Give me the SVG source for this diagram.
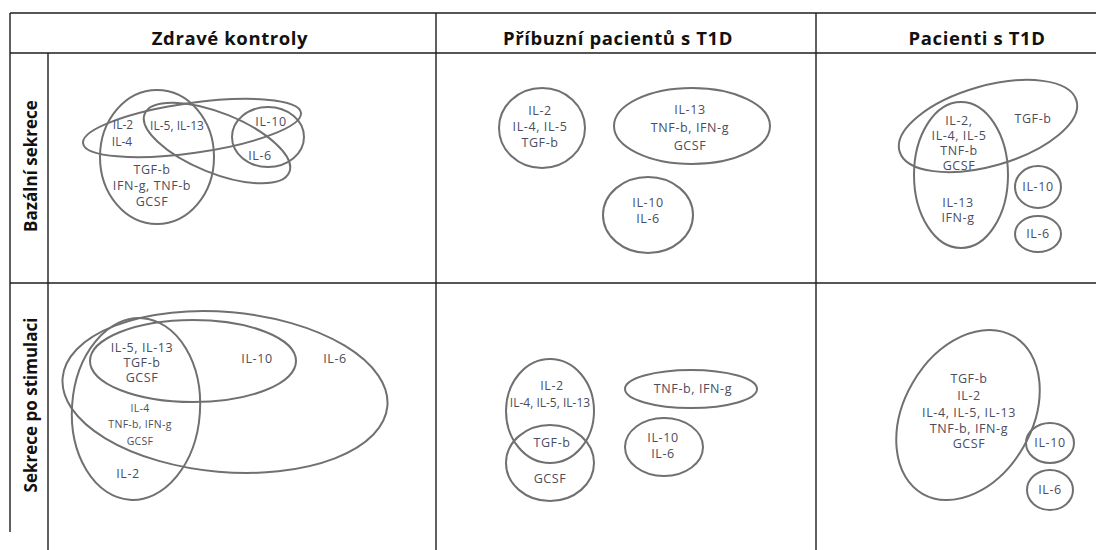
<svg xmlns="http://www.w3.org/2000/svg" width="1096" height="550" viewBox="0 0 1096 550">
<style>
.grid{stroke:#1e1e1e;stroke-width:1.4;fill:none}
.hd{font-family:"Open Sans","Liberation Sans",sans-serif;font-weight:700;font-size:18.5px;letter-spacing:0.6px;fill:#111;text-anchor:middle}
.rl{font-family:"Open Sans","Liberation Sans",sans-serif;font-weight:700;font-size:17px;fill:#111;text-anchor:middle}
.e{fill:none;stroke:#707070;stroke-width:2}
.t{font-family:"Open Sans","Liberation Sans",sans-serif;font-size:12.5px;letter-spacing:0.6px;fill:#4a4d5e;text-anchor:middle}
.n{font-family:"Open Sans","Liberation Sans",sans-serif;font-size:12px;fill:#4a4d5e;text-anchor:middle}
.s{font-family:"Open Sans","Liberation Sans",sans-serif;font-size:10.5px;letter-spacing:0.3px;fill:#4a4d5e;text-anchor:middle}
</style>
<rect width="1096" height="550" fill="#fff"/>
<g id="table" class="grid">
<line x1="10" y1="13" x2="1096" y2="13"/>
<line x1="10" y1="53" x2="1096" y2="53"/>
<line x1="10" y1="283" x2="1096" y2="283"/>
<line x1="10" y1="13" x2="10" y2="532"/>
<line x1="48" y1="53" x2="48" y2="550"/>
<line x1="436" y1="13" x2="436" y2="550"/>
<line x1="816" y1="13" x2="816" y2="550"/>
</g>
<g id="headers">
<text class="hd" x="230" y="45">Zdravé kontroly</text>
<text class="hd" x="618" y="45">Příbuzní pacientů s T1D</text>
<text class="hd" x="977" y="45">Pacienti s T1D</text>
<text class="rl" transform="translate(37,166) rotate(-90)">Bazální sekrece</text>
<text class="rl" transform="translate(37,405) rotate(-90)">Sekrece po stimulaci</text>
</g>
<g id="zdrave-bazalni">
<ellipse class="e" cx="192" cy="128" rx="110" ry="25" transform="rotate(-8 192 128)"/>
<ellipse class="e" cx="157" cy="157" rx="57" ry="67"/>
<ellipse class="e" cx="217" cy="143" rx="78" ry="30" transform="rotate(22 217 143)"/>
<ellipse class="e" cx="268" cy="137" rx="36" ry="30"/>
<text class="n" x="123" y="129">IL-2</text>
<text class="n" x="122" y="146">IL-4</text>
<text class="n" x="177" y="130">IL-5, IL-13</text>
<text class="t" x="271" y="126">IL-10</text>
<text class="t" x="260" y="160">IL-6</text>
<text class="t" x="152" y="174">TGF-b</text>
<text class="t" x="152" y="190">IFN-g, TNF-b</text>
<text class="t" x="152" y="206">GCSF</text>
</g>
<g id="pribuzni-bazalni">
<ellipse class="e" cx="542" cy="128" rx="43" ry="40"/>
<ellipse class="e" cx="692" cy="126" rx="78" ry="38"/>
<ellipse class="e" cx="648" cy="215" rx="45" ry="38"/>
<text class="t" x="540" y="115">IL-2</text>
<text class="t" x="540" y="131">IL-4, IL-5</text>
<text class="t" x="540" y="147">TGF-b</text>
<text class="t" x="690" y="114">IL-13</text>
<text class="t" x="690" y="132">TNF-b, IFN-g</text>
<text class="t" x="690" y="150">GCSF</text>
<text class="t" x="648" y="207">IL-10</text>
<text class="t" x="648" y="223">IL-6</text>
</g>
<g id="pacienti-bazalni">
<ellipse class="e" cx="988" cy="126" rx="92" ry="40" transform="rotate(-16 988 126)"/>
<ellipse class="e" cx="961" cy="175" rx="47" ry="73"/>
<ellipse class="e" cx="1038" cy="187" rx="23" ry="21"/>
<ellipse class="e" cx="1038" cy="234" rx="23" ry="18"/>
<text class="t" x="959" y="125">IL-2,</text>
<text class="t" x="959" y="140">IL-4, IL-5</text>
<text class="t" x="959" y="155">TNF-b</text>
<text class="t" x="959" y="170">GCSF</text>
<text class="t" x="1033" y="123">TGF-b</text>
<text class="t" x="958" y="207">IL-13</text>
<text class="t" x="958" y="222">IFN-g</text>
<text class="t" x="1038" y="191">IL-10</text>
<text class="t" x="1038" y="238">IL-6</text>
</g>
<g id="zdrave-stimulace">
<ellipse class="e" cx="225" cy="392" rx="163" ry="80" transform="rotate(5 225 392)"/>
<ellipse class="e" cx="193" cy="361" rx="103" ry="41"/>
<ellipse class="e" cx="136" cy="409" rx="64" ry="91" transform="rotate(4 136 409)"/>
<text class="t" x="142" y="352">IL-5, IL-13</text>
<text class="t" x="142" y="367">TGF-b</text>
<text class="t" x="142" y="382">GCSF</text>
<text class="t" x="257" y="363">IL-10</text>
<text class="t" x="335" y="363">IL-6</text>
<text class="s" x="140" y="412">IL-4</text>
<text class="s" x="140" y="428">TNF-b, IFN-g</text>
<text class="s" x="140" y="445">GCSF</text>
<text class="t" x="128" y="478">IL-2</text>
</g>
<g id="pribuzni-stimulace">
<ellipse class="e" cx="550" cy="411" rx="44" ry="52"/>
<ellipse class="e" cx="550" cy="463" rx="44" ry="38"/>
<ellipse class="e" cx="691" cy="389" rx="66" ry="19"/>
<ellipse class="e" cx="664" cy="447" rx="39" ry="29"/>
<text class="t" x="552" y="390">IL-2</text>
<text class="n" x="550" y="407">IL-4, IL-5, IL-13</text>
<text class="t" x="552" y="447">TGF-b</text>
<text class="t" x="550" y="483">GCSF</text>
<text class="t" x="693" y="393">TNF-b, IFN-g</text>
<text class="t" x="663" y="442">IL-10</text>
<text class="t" x="663" y="458">IL-6</text>
</g>
<g id="pacienti-stimulace">
<ellipse class="e" cx="968" cy="415" rx="64" ry="91" transform="rotate(30 968 415)"/>
<ellipse class="e" cx="1050" cy="443" rx="24" ry="20"/>
<ellipse class="e" cx="1050" cy="490" rx="23" ry="20"/>
<text class="t" x="969" y="383">TGF-b</text>
<text class="t" x="969" y="400">IL-2</text>
<text class="t" x="969" y="417">IL-4, IL-5, IL-13</text>
<text class="t" x="969" y="433">TNF-b, IFN-g</text>
<text class="t" x="969" y="448">GCSF</text>
<text class="t" x="1050" y="447">IL-10</text>
<text class="t" x="1050" y="494">IL-6</text>
</g>
</svg>
